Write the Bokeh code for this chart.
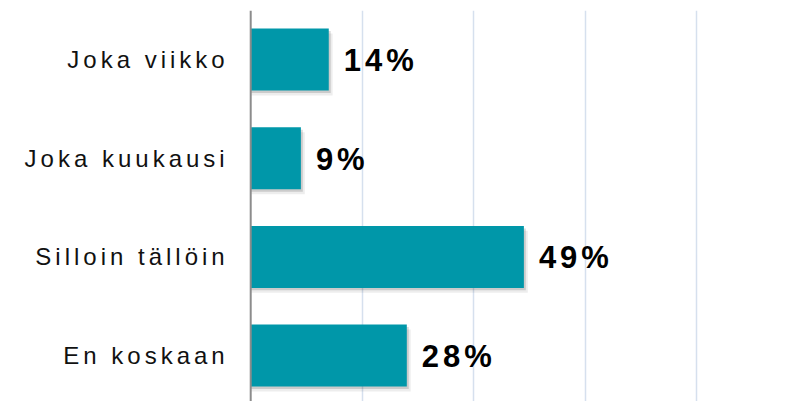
from bokeh.plotting import figure
from bokeh.models import Range1d, FixedTicker, Span
from bokeh.core.properties import value
from bokeh.embed import file_html
from bokeh.resources import INLINE

categories = ["Joka viikko", "Joka kuukausi", "Silloin tällöin", "En koskaan"]
values = [14, 9, 49, 28]
value_labels = ["14%", "9%", "49%", "28%"]
grid_ticks = [20, 40, 60, 80]

positions = list(range(len(categories)))
SPACING = 4  # css letter-spacing in px

p = figure(width=796, height=401, output_backend="svg", toolbar_location=None,
           x_range=Range1d(-44.88, 97.9), y_range=Range1d(3.465, -0.4965),
           min_border_left=0, min_border_right=0, min_border_top=10, min_border_bottom=0,
           stylesheets=[":host { letter-spacing: %dpx; }" % SPACING])
p.outline_line_color = None
p.background_fill_color = "white"
p.border_fill_color = "white"
p.xaxis.visible = False
p.yaxis.visible = False

p.xgrid.ticker = FixedTicker(ticks=grid_ticks)
p.xgrid.grid_line_color = "#D6E0EE"
p.xgrid.grid_line_width = 1.5
p.ygrid.grid_line_color = None

# soft shadows
for dx, dy, a in [(0.35, 0.025, 0.14), (0.7, 0.05, 0.07)]:
    p.hbar(y=[q + dy for q in positions], left=0, right=[v + dx for v in values],
           height=0.628, fill_color="black", fill_alpha=a, line_color=None)

p.hbar(y=positions, left=0, right=values, height=0.628,
       fill_color="#0097A9", line_color=None)

# vertical category axis line
p.add_layout(Span(location=0, dimension="height", line_color="#8C8C8C", line_width=2))

p.text(x=values, y=positions, text=value_labels, x_offset=15, y_offset=1,
       text_align="left", text_baseline="middle",
       text_font=value("Liberation Sans"), text_font_style="bold",
       text_font_size="31px", text_color="black")

# category labels (right aligned, compensated for letter spacing)
p.text(x=[0] * len(categories), y=positions, text=categories,
       x_offset=[-(26 + SPACING * (len(c) - 1)) for c in categories],
       text_align="right", text_baseline="middle",
       text_font=value("Liberation Sans"), text_font_size="24px",
       text_color="#111111")

open("out.html", "w").write(file_html(p, INLINE))
